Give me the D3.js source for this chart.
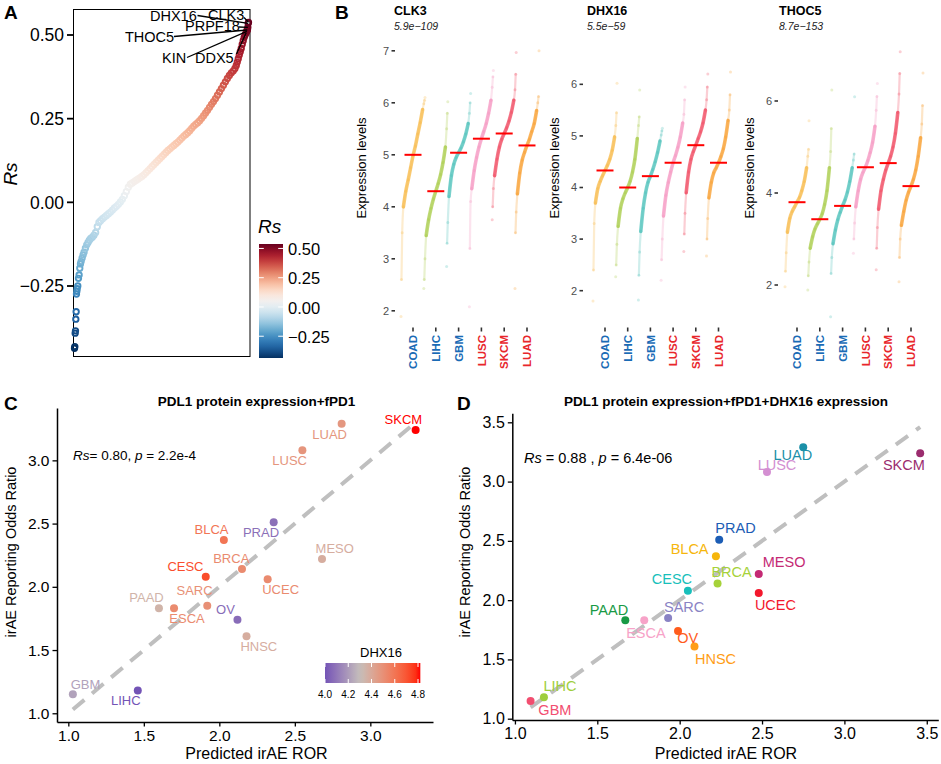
<!DOCTYPE html>
<html><head><meta charset="utf-8">
<script src="https://cdn.jsdelivr.net/npm/d3@7"></script>
<style>body{margin:0;background:#fff;}</style>
</head><body>
<script>
// ================= DATA =================
// Panel A: genes ranked by Spearman Rs
const aRank = [1,2,3,4,5,6,7,8,9,11,13,15,17,19,21,24,27,30,34,38,42,46,50,55,60,65,70,75,80,86,92,98,104,110,116,122,128,134,140,146,152,158,164,170,176,182,188,194,200,206,212,218,224,230,236,242,248,254,260,266,272,278,284,290,296,302,308,314,320,326,332,338,344,350,356,362,368,374,380,386,392,398,404,410,416,422,428,434,440,446,452,458,464,470,476,482,487,491,494,497,500,503,506,509,512,515,518,521,523,524,525,526,527,528];
const aRs = [-0.436,-0.431,-0.391,-0.384,-0.349,-0.327,-0.274,-0.266,-0.258,-0.250,-0.227,-0.217,-0.197,-0.184,-0.177,-0.167,-0.157,-0.149,-0.137,-0.127,-0.120,-0.113,-0.108,-0.104,-0.098,-0.090,-0.073,-0.060,-0.055,-0.049,-0.044,-0.039,-0.034,-0.029,-0.023,-0.017,-0.012,-0.006,0.001,0.009,0.020,0.032,0.045,0.054,0.058,0.062,0.066,0.070,0.074,0.078,0.083,0.089,0.095,0.101,0.107,0.113,0.119,0.125,0.131,0.137,0.143,0.149,0.155,0.160,0.165,0.170,0.175,0.180,0.186,0.192,0.198,0.203,0.208,0.214,0.221,0.228,0.233,0.238,0.244,0.251,0.259,0.267,0.275,0.284,0.293,0.301,0.310,0.320,0.330,0.340,0.350,0.360,0.370,0.379,0.387,0.393,0.400,0.409,0.419,0.429,0.440,0.450,0.460,0.472,0.483,0.493,0.501,0.507,0.511,0.515,0.517,0.523,0.535,0.538];
const aTicks = [-0.25, 0, 0.25, 0.5];
const aLabelGenes = ["CLK3","DHX16","PRPF18","THOC5","KIN","DDX5"];
const aLabelRank = [528,527,526,524,523,521];

// Panel B: expression distributions (values at quantile levels)
const bGenes = ["CLK3","DHX16","THOC5"];
const bPvalues = ["5.9e\u2212109","5.5e\u221259","8.7e\u2212153"];
const bCancers = ["COAD","LIHC","GBM","LUSC","SKCM","LUAD"];
const bCancerGroup = ["low","low","low","high","high","high"];
const bQuantiles = [0,0.02,0.05,0.1,0.2,0.3,0.4,0.5,0.6,0.7,0.8,0.9,0.95,0.98,1];
const bCLK3 = [
  [1.89,2.6,3.5,4.0,4.3,4.52,4.75,4.98,5.17,5.4,5.62,5.87,5.98,6.05,6.1],
  [2.43,2.6,3.0,3.45,3.75,3.97,4.15,4.3,4.45,4.62,4.85,5.15,5.5,5.8,6.02],
  [2.85,3.3,3.7,4.2,4.6,4.82,4.95,5.04,5.13,5.25,5.4,5.6,5.8,6.0,6.18],
  [2.08,3.2,4.1,4.35,4.7,4.95,5.15,5.31,5.45,5.6,5.8,6.05,6.3,6.5,6.62],
  [3.75,4.0,4.35,4.6,4.92,5.15,5.3,5.41,5.52,5.65,5.82,6.05,6.25,6.55,6.97],
  [2.43,3.5,3.9,4.25,4.65,4.9,5.05,5.18,5.3,5.45,5.6,5.85,6.0,6.12,7.0]];
const bDHX16 = [
  [1.8,2.4,3.3,3.7,3.98,4.12,4.23,4.33,4.43,4.55,4.72,4.98,5.2,5.45,6.02],
  [2.27,2.5,2.9,3.25,3.6,3.78,3.9,4.0,4.12,4.3,4.55,4.95,5.2,5.37,5.89],
  [1.82,2.3,2.75,3.15,3.6,3.9,4.1,4.22,4.35,4.5,4.68,4.9,5.02,5.1,5.15],
  [2.2,2.6,3.0,3.45,3.85,4.1,4.3,4.48,4.62,4.78,4.98,5.25,5.42,5.7,5.95],
  [2.76,3.1,3.5,3.9,4.3,4.55,4.7,4.82,4.95,5.08,5.25,5.5,5.7,5.95,6.2],
  [2.67,3.0,3.4,3.8,4.1,4.28,4.38,4.48,4.6,4.75,4.98,5.3,5.5,5.8,6.24]];
const bTHOC5 = [
  [1.96,2.3,2.7,3.15,3.45,3.6,3.7,3.8,3.9,4.05,4.25,4.55,4.8,4.95,5.57],
  [1.89,2.2,2.5,2.8,3.05,3.22,3.33,3.43,3.55,3.75,4.05,4.55,4.9,5.4,6.24],
  [1.31,2.25,2.6,2.9,3.2,3.42,3.58,3.72,3.85,4.02,4.25,4.55,4.72,4.85,6.09],
  [2.69,3.0,3.35,3.7,4.05,4.3,4.45,4.56,4.7,4.88,5.1,5.45,5.8,6.1,6.38],
  [2.33,2.8,3.25,3.65,4.05,4.3,4.5,4.65,4.8,5.0,5.3,5.75,6.15,6.6,7.07],
  [2.07,2.6,3.0,3.3,3.6,3.85,4.02,4.15,4.3,4.5,4.8,5.2,5.5,5.9,6.61]];
const bMedCLK3 = [5.0,4.3,5.04,5.31,5.41,5.18];
const bMedDHX16 = [4.33,4.0,4.22,4.48,4.82,4.48];
const bMedTHOC5 = [3.8,3.43,3.72,4.56,4.65,4.15];
const bTicksCLK3 = [2,3,4,5,6,7];
const bTicksDHX16 = [2,3,4,5,6];
const bTicksTHOC5 = [2,4,6];

// Panels C & D
const cancers = ["SKCM","LUAD","LUSC","PRAD","BLCA","MESO","BRCA","CESC","UCEC","PAAD","ESCA","SARC","OV","HNSC","GBM","LIHC"];
const observedROR = [3.24,3.29,3.08,2.51,2.37,2.22,2.14,2.08,2.06,1.83,1.83,1.85,1.74,1.61,1.15,1.18];
const predictedC = [3.30,2.81,2.55,2.36,2.03,2.68,2.15,1.91,2.32,1.60,1.70,1.92,2.12,2.18,1.03,1.46];
const dhx16Expr = [4.82,4.47,4.48,4.08,4.60,4.38,4.52,4.72,4.52,4.35,4.52,4.50,4.07,4.38,4.22,4.00];
const predictedD = [3.46,2.75,2.53,2.24,2.22,2.48,2.23,2.05,2.48,1.67,1.785,1.93,1.99,2.09,1.095,1.176];
const cancerColorsD = ["#9b2c6e","#1b90a8","#d48fd2","#1c5db5","#f6b60c","#c42a74","#a6d23a","#18bfbb","#f3182d","#199a45","#f7a3c8","#8a83c4","#ff5c1c","#ff9d16","#f24e70","#9fce3c"];
const rorTicksC = [1.0,1.5,2.0,2.5,3.0];
const rorTicksD = [1.0,1.5,2.0,2.5,3.0,3.5];
const legendTicksC = [4.0,4.2,4.4,4.6,4.8];

// ================= DRAWING =================
const FONT = "'Liberation Sans', Arial, Helvetica, sans-serif";
const svg = d3.select("body").append("svg").attr("width",941).attr("height",764)
  .style("font-family",FONT);
const defs = svg.append("defs");

[["A",4,19],["B",335,18.5],["C",4,410],["D",457,410]].forEach(([t,x,y])=>
  svg.append("text").attr("x",x).attr("y",y).text(t).attr("font-weight","bold").attr("font-size",19));

// ---------- Panel A ----------
(function(){
  const g = svg.append("g");
  const x = d3.scaleLinear().domain([1,528]).range([74.5,248.5]);
  const y = d3.scaleLinear().domain([-0.25,0.5]).range([286,35]);
  const ext = d3.extent(aRs);
  const col = d3.scaleSequential(t=>d3.interpolateRdBu(1-t)).domain(ext);
  g.append("rect").attr("x",73.5).attr("y",9.5).attr("width",176.5).attr("height",347)
    .attr("fill","none").attr("stroke","#000").attr("stroke-width",1);
  aTicks.forEach(t=>{
    g.append("line").attr("x1",67).attr("x2",73).attr("y1",y(t)).attr("y2",y(t)).attr("stroke","#000").attr("stroke-width",1.8);
    g.append("text").attr("x",64).attr("y",y(t)).attr("dy","0.36em").attr("text-anchor","end")
      .attr("font-size",17.5).text(t===0?"0.00":(t<0?"\u2212":"")+Math.abs(t).toFixed(2));
  });
  g.append("text").attr("transform","translate(17,174) rotate(-90)").attr("text-anchor","middle")
    .attr("font-size",19).attr("font-style","italic").text("Rs");
  const pts = aRank.map((r,i)=>({r,v:aRs[i]}));
  g.selectAll("circle.a").data(pts).join("circle").attr("class","a")
    .attr("cx",d=>x(d.r)).attr("cy",d=>y(d.v)).attr("r",2.7)
    .attr("fill","none").attr("stroke",d=>col(d.v)).attr("stroke-width",1.9);
  // labels
  const lay = [
    {tx:208,ty:19.5,sx:244,sy:17.5},
    {tx:150,ty:20.7,sx:197.5,sy:15.5},
    {tx:185,ty:30.5,sx:239,sy:27},
    {tx:125,ty:41.7,sx:174,sy:36.5},
    {tx:162,ty:63.3,sx:187,sy:57.5},
    {tx:195,ty:63.3,sx:236.5,sy:54}];
  aLabelGenes.forEach((gname,i)=>{
    const idx = aRank.indexOf(aLabelRank[i]);
    const px = x(aRank[idx]), py = y(aRs[idx]);
    g.append("line").attr("x1",lay[i].sx).attr("y1",lay[i].sy).attr("x2",px).attr("y2",py)
      .attr("stroke","#000").attr("stroke-width",1.3);
  });
  aLabelGenes.forEach((gname,i)=>{
    g.append("text").attr("x",lay[i].tx).attr("y",lay[i].ty).attr("font-size",14.5).text(gname);
  });
  // colour bar
  const by = d3.scaleLinear().domain(ext).range([358,244]);
  const grad = defs.append("linearGradient").attr("id","gA").attr("x1",0).attr("x2",0).attr("y1",1).attr("y2",0);
  d3.range(0,1.0001,0.05).forEach(f=>{
    const v = ext[0]+f*(ext[1]-ext[0]);
    grad.append("stop").attr("offset",f).attr("stop-color",col(v));
  });
  g.append("rect").attr("x",259).attr("y",244).attr("width",24).attr("height",114).attr("fill","url(#gA)");
  aTicks.forEach(t=>{
    [[259,263.8],[278.2,283]].forEach(([a,b])=>g.append("line").attr("x1",a).attr("x2",b).attr("y1",by(t)).attr("y2",by(t)).attr("stroke","#fff").attr("stroke-width",1));
    g.append("text").attr("x",288).attr("y",by(t)).attr("dy","0.4em").attr("font-size",16.5)
      .text(t===0?"0.00":(t<0?"\u2212":"")+Math.abs(t).toFixed(2));
  });
  g.append("text").attr("x",258).attr("y",233).attr("font-size",19).attr("font-style","italic").text("Rs");
})();

// ---------- Panel B ----------
(function(){
  const sets = [bCLK3,bDHX16,bTHOC5];
  const meds = [bMedCLK3,bMedDHX16,bMedTHOC5];
  const ticks = [bTicksCLK3,bTicksDHX16,bTicksTHOC5];
  const lay = [
    {axisX:395, x0:413, x1:527, dom:[1.631,7.208], yl:366, tx:394},
    {axisX:583, x0:605, x1:718.5, dom:[1.238,6.859], yl:559, tx:587},
    {axisX:778, x0:797, x1:911, dom:[1.022,7.326], yl:754, tx:779}];
  const stripCol = ["#f6b43a","#a2c93c","#40bdb5","#f58fbd","#ef3a53","#f7961e"];
  const labCol = {low:"#1a6bb5", high:"#e8262b"};
  bGenes.forEach((gene,gi)=>{
    const L = lay[gi];
    const g = svg.append("g");
    const x = d3.scalePoint().domain(bCancers).range([L.x0,L.x1]);
    const y = d3.scaleLinear().domain(L.dom).range([330,40]);
    g.append("text").attr("x",L.tx).attr("y",15).attr("font-weight","bold").attr("font-size",12.5).text(gene);
    g.append("text").attr("x",L.tx).attr("y",29.5).attr("font-style","italic").attr("font-size",10.5).attr("fill","#222").text(bPvalues[gi]);
    ticks[gi].forEach(t=>{
      g.append("line").attr("x1",L.axisX-3.5).attr("x2",L.axisX).attr("y1",y(t)).attr("y2",y(t)).attr("stroke","#333").attr("stroke-width",1.6);
      g.append("text").attr("x",L.axisX-6).attr("y",y(t)).attr("dy","0.35em").attr("text-anchor","end")
        .attr("font-size",11).attr("fill","#4d4d4d").text(t);
    });
    g.append("text").attr("transform",`translate(${L.yl},168) rotate(-90)`).attr("text-anchor","middle")
      .attr("font-size",13).text("Expression levels");
    bCancers.forEach((c,ci)=>{
      const cx = x(c);
      const vals = sets[gi][ci];
      const pts = bQuantiles.map((q,k)=>({q, px: cx+(q-0.5)*24, py: y(vals[k])}));
      const line = d3.line().x(d=>d.px).y(d=>d.py).curve(d3.curveMonotoneX);
      g.append("path").attr("d",line(pts.filter(d=>d.q>=0.02&&d.q<=0.98)))
        .attr("fill","none").attr("stroke",stripCol[ci]).attr("stroke-width",2.2).attr("stroke-opacity",0.25).attr("stroke-linecap","round");
      g.append("path").attr("d",line(pts.filter(d=>d.q>=0.1&&d.q<=0.9)))
        .attr("fill","none").attr("stroke",stripCol[ci]).attr("stroke-width",3.6).attr("stroke-opacity",0.68).attr("stroke-linecap","round");
      g.selectAll(null).data(pts).join("circle").attr("cx",d=>d.px).attr("cy",d=>d.py).attr("r",1.5)
        .attr("fill",stripCol[ci]).attr("fill-opacity",0.25);
      g.append("line").attr("x1",cx-8.5).attr("x2",cx+8.5).attr("y1",y(meds[gi][ci])).attr("y2",y(meds[gi][ci]))
        .attr("stroke","#ff0000").attr("stroke-width",2);
      g.append("line").attr("x1",cx).attr("x2",cx).attr("y1",327.5).attr("y2",331.5).attr("stroke","#333").attr("stroke-width",1.6);
      g.append("text").attr("transform",`translate(${cx},335) rotate(-90)`).attr("text-anchor","end").attr("dy","0.36em")
        .attr("font-size",11.5).attr("font-weight","bold").attr("fill",labCol[bCancerGroup[ci]]).text(c);
    });
  });
})();

// ---------- Panels C & D ----------
function scatter(cfg){
  const g = svg.append("g");
  const x = d3.scaleLinear().domain(cfg.xd).range(cfg.xr);
  const y = d3.scaleLinear().domain(cfg.yd).range(cfg.yr);
  const ax = g.append("g").attr("transform",`translate(0,${cfg.yr[0]})`)
    .call(d3.axisBottom(x).tickValues(cfg.ticks).tickFormat(d3.format(".1f")).tickSize(4.5).tickSizeOuter(0));
  const ay = g.append("g").attr("transform",`translate(${cfg.xr[0]},0)`)
    .call(d3.axisLeft(y).tickValues(cfg.ticks.filter(t=>t<=cfg.yd[1])).tickFormat(d3.format(".1f")).tickSize(4.5).tickSizeOuter(0));
  [ax,ay].forEach(a=>{
    a.select(".domain").attr("stroke","#000").attr("stroke-width",1.5);
    a.selectAll(".tick line").attr("stroke","#000").attr("stroke-width",1.3);
    a.selectAll(".tick text").attr("fill","#000").attr("font-size",cfg.tickFont).style("font-family",FONT);
  });
  g.append("text").attr("x",cfg.titleX).attr("y",406).attr("text-anchor","middle").attr("font-weight","bold")
    .attr("font-size",13.5).text(cfg.title);
  g.append("text").attr("x",cfg.titleX).attr("y",759).attr("text-anchor","middle").attr("font-size",16).text("Predicted irAE ROR");
  g.append("text").attr("transform",`translate(${cfg.ylX},552) rotate(-90)`).attr("text-anchor","middle")
    .attr("font-size",14.5).text("irAE Reporting Odds Ratio");
  const ann = g.append("text").attr("x",cfg.annX).attr("y",cfg.annY).attr("font-size",cfg.annFont);
  ann.append("tspan").attr("font-style","italic").text("Rs");
  ann.append("tspan").text(cfg.annA);
  ann.append("tspan").attr("font-style","italic").text("p");
  ann.append("tspan").text(cfg.annB);
  const ext = d3.extent(cfg.pred);
  g.append("line").attr("x1",x(ext[0])).attr("y1",y(ext[0])).attr("x2",x(ext[1])).attr("y2",y(ext[1]))
    .attr("stroke","#bfbfbf").attr("stroke-width",4).attr("stroke-dasharray","15,10");
  cancers.forEach((c,i)=>{
    g.append("circle").attr("cx",x(cfg.pred[i])).attr("cy",y(observedROR[i])).attr("r",4).attr("fill",cfg.colors[i]);
  });
  cancers.forEach((c,i)=>{
    g.append("text").attr("x",x(cfg.pred[i])+cfg.off[i][0]).attr("y",y(observedROR[i])+cfg.off[i][1])
      .attr("text-anchor","middle").attr("font-size",cfg.labFont).attr("fill",cfg.colors[i]).text(c);
  });
  return g;
}

const cCol = d3.scaleLinear().domain([d3.min(dhx16Expr),4.3,d3.max(dhx16Expr)])
  .range(["#7354b6","#c5bfbb","#ff0000"]).interpolate(d3.interpolateLab);

const gC = scatter({
  xd:[0.925,3.415], xr:[57,433], yd:[0.931,3.414], yr:[722,408], ticks:rorTicksC,
  tickFont:15.5, title:"PDL1 protein expression+fPD1", titleX:256.5, ylX:16,
  annX:73, annY:460, annFont:13.5, annA:"= 0.80, ", annB:" = 2.2e-4",
  pred:predictedC, colors:dhx16Expr.map(v=>cCol(v)), labFont:13,
  off:[[-12.3,-6],[-12,15],[-12.7,15],[-12.7,14.6],[-12.3,-6],[12.7,-6],[-10.7,-6],[-20.3,-6],[13,15],[-12.4,-6],[13,15],[-12.7,-10.3],[-12,-6],[12.3,14.7],[12.7,-5.7],[-12,14.3]]
});
// DHX16 legend for C
(function(){
  const lx = d3.scaleLinear().domain([4.0,4.8]).range([325,418]);
  const ext = d3.extent(dhx16Expr);
  const grad = defs.append("linearGradient").attr("id","gC").attr("x1",0).attr("x2",1).attr("y1",0).attr("y2",0);
  d3.range(0,1.0001,0.05).forEach(f=>{
    grad.append("stop").attr("offset",f).attr("stop-color",cCol(ext[0]+f*(ext[1]-ext[0])));
  });
  gC.append("rect").attr("x",lx(ext[0])).attr("y",663).attr("width",lx(ext[1])-lx(ext[0])).attr("height",20).attr("fill","url(#gC)");
  legendTicksC.forEach(t=>{
    [[663,667],[679,683]].forEach(([a,b])=>gC.append("line").attr("x1",lx(t)).attr("x2",lx(t)).attr("y1",a).attr("y2",b).attr("stroke","#fff").attr("stroke-width",1));
    gC.append("text").attr("x",lx(t)).attr("y",698).attr("text-anchor","middle").attr("font-size",10).text(t.toFixed(1));
  });
  gC.append("text").attr("x",360).attr("y",657).attr("font-size",13).text("DHX16");
})();

scatter({
  xd:[0.984,3.57], xr:[512.3,938.3], yd:[0.989,3.576], yr:[720,413.3], ticks:rorTicksD,
  tickFont:16, title:"PDL1 protein expression+fPD1+DHX16 expression", titleX:726, ylX:470,
  annX:524, annY:462.7, annFont:14.5, annA:" = 0.88 , ", annB:" = 6.4e-06",
  pred:predictedD, colors:cancerColorsD, labFont:14.5,
  off:[[-16.3,17.3],[-10.4,12.6],[10,-1.7],[16.3,-6.6],[-26.3,-2],[25.4,-6.7],[14,-6.6],[-16,-6.4],[16.7,17.3],[-16.4,-5.7],[1.7,17.7],[16,-6],[9.7,12],[21,17.3],[24.3,14.3],[16,-6.6]]
});
</script>
</body></html>
